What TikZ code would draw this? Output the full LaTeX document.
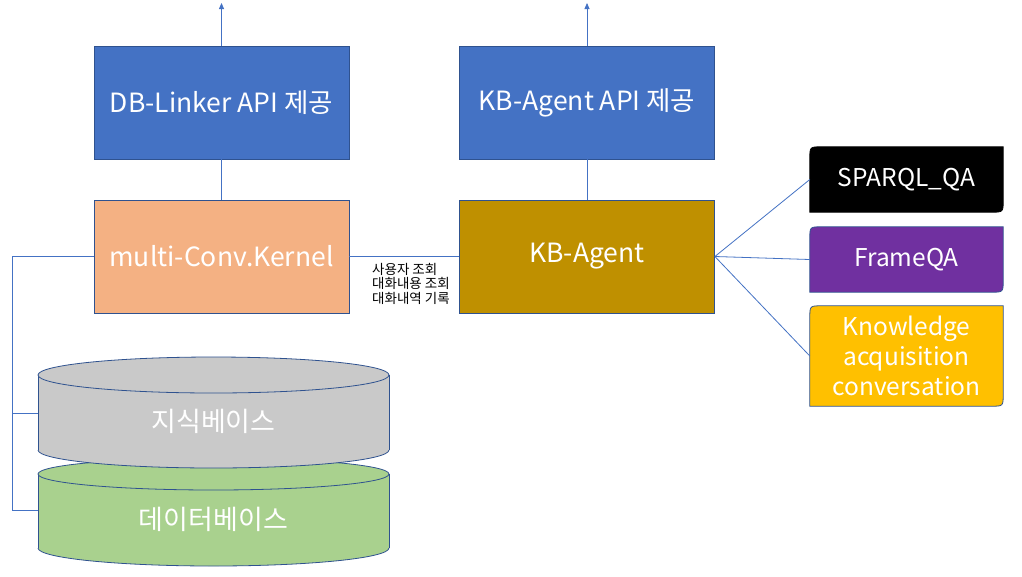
\documentclass[tikz,border=0pt]{standalone}
\usepackage{fontspec}
\setmainfont{Noto Sans CJK KR}
\usetikzlibrary{arrows.meta}
\definecolor{boxblue}{HTML}{4472C4}
\definecolor{edgeblue}{HTML}{2F528F}
\definecolor{peach}{HTML}{F4B183}
\definecolor{gold}{HTML}{BF9000}
\definecolor{purp}{HTML}{7030A0}
\definecolor{amber}{HTML}{FFC000}
\definecolor{kbgray}{HTML}{C9C9C9}
\definecolor{dbgreen}{HTML}{A9D18E}
\pgfdeclarelayer{bg}
\pgfsetlayers{bg,main}
\newcommand{\diagshape}[3]{%
  \path[fill=#2,draw=#3,line width=0.8pt] (#1.south west) -- ([yshift=-12pt]#1.north west)
    .. controls (#1.north west) .. ([xshift=12pt]#1.north west) -- (#1.north east)
    -- ([yshift=12pt]#1.south east) .. controls (#1.south east) .. ([xshift=-12pt]#1.south east) -- cycle;}
\begin{document}
\begin{tikzpicture}[x=1pt,y=-1pt,
  box/.style={draw=edgeblue, line width=0.8pt, minimum width=255pt, minimum height=113pt, inner sep=0pt, text=white, font=\fontsize{26.5}{30}\selectfont},
  sidebox/.style={minimum width=193pt, inner sep=0pt, text=white, align=center, font=\fontsize{24.5}{30}\selectfont},
  conn/.style={draw=boxblue, line width=0.8pt},
  cyl/.style={draw=edgeblue, line width=0.8pt},
  cyltext/.style={text=white, font=\fontsize{27}{30}\selectfont},
  small/.style={font=\fontsize{13.5}{14.5}\selectfont, align=left, text=black, inner sep=0pt}]
\useasboundingbox (0,0) rectangle (1022,576);
\begin{pgfonlayer}{bg}
\fill[white] (0,0) rectangle (1022,576);
\end{pgfonlayer}

% top boxes
\node[box, fill=boxblue] (dbapi) at (221.5,102.5) {DB-Linker API 제공};
\node[box, fill=boxblue] (kbapi) at (587,102.5) {KB-Agent API 제공};
\node[box, fill=peach] (mck) at (221.5,256.5) {multi-Conv.Kernel};
\node[box, fill=gold] (kba) at (587,256.5) {KB-Agent};

\coordinate (dbtop) at (221.5,3);
\coordinate (kbtop) at (587,3);
\draw[conn,-{Triangle[width=5pt,length=6pt]}] (dbapi.north) -- (dbtop);
\draw[conn,-{Triangle[width=5pt,length=6pt]}] (kbapi.north) -- (kbtop);
\draw[conn] (dbapi) -- (mck);
\draw[conn] (kbapi) -- (kba);
\draw[conn] (mck.east) -- (kba.west);
\node[small, anchor=north west] (lbl) at (372,263) {사용자 조회\\대화내용 조회\\대화내역 기록};

% right boxes
\node[sidebox, minimum height=65pt] (sparql) at (906.5,179.5) {SPARQL\_QA};
\node[sidebox, minimum height=65pt] (frame) at (906.5,259.5) {FrameQA};
\node[sidebox, minimum height=100pt] (kac) at (906.5,356) {Knowledge\\acquisition\\conversation};
\begin{pgfonlayer}{bg}
\diagshape{sparql}{black}{black}
\diagshape{frame}{purp}{edgeblue}
\diagshape{kac}{amber}{edgeblue}
\end{pgfonlayer}
\draw[conn] (kba.east) -- (sparql.west);
\draw[conn] (kba.east) -- (frame.west);
\draw[conn] (kba.east) -- (kac.west);

% cylinders: database (green) first, then knowledge base (gray)
\fill[dbgreen] (38,474) rectangle (389,548);
\fill[dbgreen] (213.5,548) ellipse [x radius=175.5pt, y radius=18pt];
\begin{scope}
\clip (30,548) rectangle (400,570);
\draw[cyl] (213.5,548) ellipse [x radius=175.5pt, y radius=18pt];
\end{scope}
\draw[cyl] (38,474) -- (38,548);
\draw[cyl] (389,474) -- (389,548);
\filldraw[cyl, fill=dbgreen] (213.5,474) ellipse [x radius=175.5pt, y radius=16pt];

\fill[kbgray] (38,375) rectangle (389,450);
\fill[kbgray] (213.5,450) ellipse [x radius=175.5pt, y radius=18pt];
\begin{scope}
\clip (30,450) rectangle (400,472);
\draw[cyl] (213.5,450) ellipse [x radius=175.5pt, y radius=18pt];
\end{scope}
\draw[cyl] (38,375) -- (38,450);
\draw[cyl] (389,375) -- (389,450);
\filldraw[cyl, fill=kbgray] (213.5,375) ellipse [x radius=175.5pt, y radius=18pt];

\node[cyltext] (kb) at (213.5,421) {지식베이스};
\node[cyltext] (db) at (213.5,519) {데이터베이스};
\coordinate (kbleft) at (38,413);
\coordinate (dbleft) at (38,510);
\coordinate (bus) at (12,256.5);
\draw[conn] (mck.west) -- (bus) |- (kbleft);
\draw[conn] (bus) |- (dbleft);
\end{tikzpicture}
\end{document}
